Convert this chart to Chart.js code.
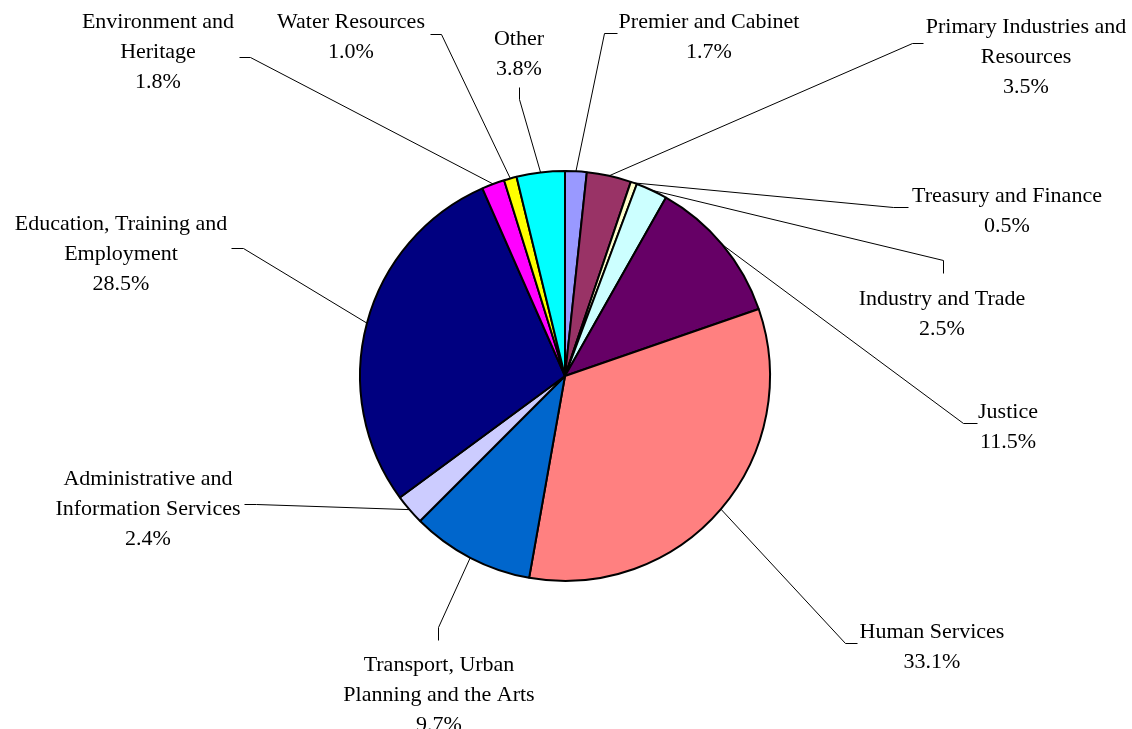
<!DOCTYPE html>
<html>
<head>
<meta charset="utf-8">
<title>Expenditure by portfolio</title>
<script src="https://cdn.jsdelivr.net/npm/chart.js@4.4.1/dist/chart.umd.min.js"></script>
<style>
  html, body { margin: 0; padding: 0; background: #ffffff; }
  #wrap { width: 1132px; height: 729px; position: relative; overflow: hidden; }
</style>
</head>
<body>
<div id="wrap"><canvas id="chart" width="1132" height="729"></canvas></div>
<script>
// Portfolio names, one entry per slice, wrapped as printed beside the pie
const portfolios = [
  ['Premier and Cabinet'],
  ['Primary Industries and', 'Resources'],
  ['Treasury and Finance'],
  ['Industry and Trade'],
  ['Justice'],
  ['Human Services'],
  ['Transport, Urban', 'Planning and the Arts'],
  ['Administrative and', 'Information Services'],
  ['Education, Training and', 'Employment'],
  ['Environment and', 'Heritage'],
  ['Water Resources'],
  ['Other']
];

// Share of total expenditure (%)
const shares = [1.7, 3.5, 0.5, 2.5, 11.5, 33.1, 9.7, 2.4, 28.5, 1.8, 1.0, 3.8];

// Slice fills
const sliceColours = [
  '#9999FF', '#993366', '#FFFFCC', '#CCFFFF', '#660066', '#FF8080',
  '#0066CC', '#CCCCFF', '#000080', '#FF00FF', '#FFFF00', '#00FFFF'
];

// Callout layout: label centre x, first baseline y, and the two leader points
// nearest the label (end at the text, elbow) before the leader runs to the slice.
const calloutLayout = [
  { x: 709,  y: 28,  end: [617, 33],  elbow: [604, 33] },
  { x: 1026, y: 33,  end: [923, 43],  elbow: [912, 43] },
  { x: 1007, y: 202, end: [908, 207], elbow: [893, 207] },
  { x: 942,  y: 305, end: [943, 273], elbow: [943, 260] },
  { x: 1008, y: 418, end: [977, 423], elbow: [963, 423] },
  { x: 932,  y: 638, end: [857, 643], elbow: [845, 643] },
  { x: 439,  y: 671, end: [438, 640], elbow: [438, 627] },
  { x: 148,  y: 485, end: [244, 504], elbow: [256, 504] },
  { x: 121,  y: 230, end: [231, 248], elbow: [243, 248] },
  { x: 158,  y: 28,  end: [239, 57],  elbow: [250, 57] },
  { x: 351,  y: 28,  end: [430, 34],  elbow: [441, 34] },
  { x: 519,  y: 45,  end: [519, 87],  elbow: [519, 99] }
];

const FONT = '22px "Liberation Serif", "Times New Roman", serif';
const LINE_STEP = 29.8;

const calloutPlugin = {
  id: 'callouts',
  afterDatasetsDraw(chart) {
    const ctx = chart.ctx;
    const meta = chart.getDatasetMeta(0);
    ctx.save();
    ctx.strokeStyle = '#000000';
    ctx.lineWidth = 1;
    meta.data.forEach((arc, i) => {
      const lay = calloutLayout[i];
      const p = arc.getProps(['x', 'y', 'startAngle', 'endAngle', 'outerRadius'], true);
      const mid = (p.startAngle + p.endAngle) / 2;
      const sx = p.x + Math.cos(mid) * p.outerRadius;
      const sy = p.y + Math.sin(mid) * p.outerRadius;
      ctx.beginPath();
      ctx.moveTo(sx, sy);
      ctx.lineTo(lay.elbow[0] + 0.5, lay.elbow[1] + 0.5);
      ctx.lineTo(lay.end[0] + 0.5, lay.end[1] + 0.5);
      ctx.stroke();
    });
    ctx.font = FONT;
    ctx.fillStyle = '#000000';
    ctx.textAlign = 'center';
    ctx.textBaseline = 'alphabetic';
    portfolios.forEach((lines, i) => {
      const lay = calloutLayout[i];
      const all = lines.concat([shares[i].toFixed(1) + '%']);
      all.forEach((t, k) => ctx.fillText(t, lay.x, lay.y + k * LINE_STEP));
    });
    ctx.restore();
  }
};

new Chart(document.getElementById('chart'), {
  type: 'pie',
  data: {
    labels: portfolios,
    datasets: [{
      data: shares,
      backgroundColor: sliceColours,
      borderColor: '#000000',
      borderWidth: 2,
      hoverOffset: 0
    }]
  },
  options: {
    responsive: false,
    animation: false,
    events: [],
    radius: 205,
    layout: { padding: { left: 360, right: 362, top: 171, bottom: 148 } },
    plugins: {
      legend: { display: false },
      tooltip: { enabled: false },
      title: { display: false }
    }
  },
  plugins: [calloutPlugin]
});
</script>
</body>
</html>
